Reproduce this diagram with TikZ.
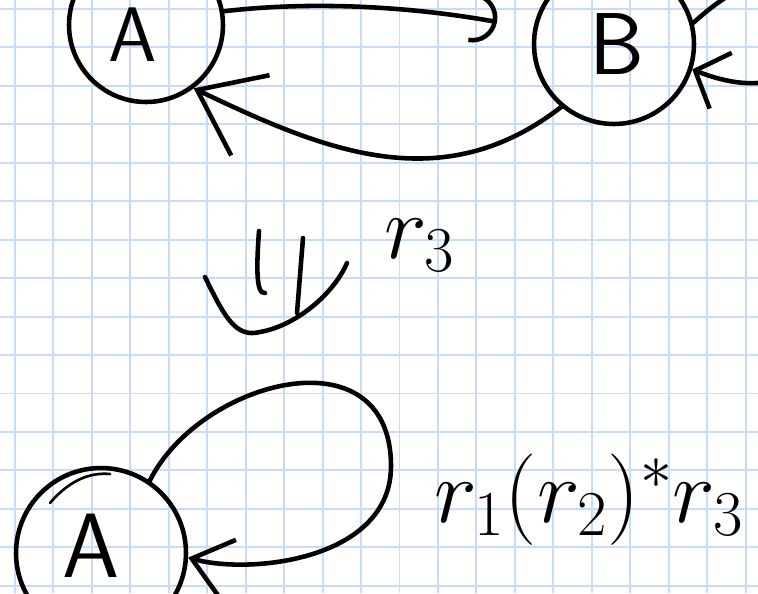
\RequirePackage{fix-cm}
\documentclass[tikz,border=0pt]{standalone}
\usetikzlibrary{arrows.meta}
\definecolor{gridblue}{RGB}{200,219,250}

\begin{document}
\begin{tikzpicture}[x=0.02cm, y=-0.02cm,
  gridline/.style={gridblue, line width=1.1pt},
  stroke/.style={line width=2.6pt, line cap=round, line join=round},
  state/.style={circle, draw, line width=2.6pt, inner sep=0pt},
  letter/.style={inner sep=0pt, font=\fontsize{52}{60}\sffamily},
  lbl/.style={inner sep=0pt, anchor=base west, font=\fontsize{52}{60}\selectfont}]
  \useasboundingbox (0,0) rectangle (758,593);
  \clip (0,0) rectangle (758,593);
  \fill[white] (0,0) rectangle (758,593);
  % Kareli kagit
  \foreach \i in {0,...,19}
    \draw[gridline] ({15+38.45*\i},0) -- ({15+38.45*\i},593);
  \foreach \j in {0,...,15}
    \draw[gridline] (0,{9+38.45*\j}) -- (758,{9+38.45*\j});
  % Ust otomat
  \node[state, minimum size=3.08cm] (topA) at (146,25) {};
  \node[letter, font=\fontsize{44}{50}\sffamily] (topAname) at (133,35) {A};
  \node[state, minimum size=3.2cm] (topB) at (614,44) {};
  \node[letter, font=\fontsize{50}{56}\sffamily] (topBname) at (617,44) {B};
  \coordinate (topAB) at (497,22);
  \draw[stroke, -{Arc Barb[length=0.5cm, width=1.0cm]}] (topA.10) .. controls (320,0) and (420,8) .. (topAB);
  \draw[stroke, -{Straight Barb[length=1.18cm, width=1.78cm]}] (topB.230) .. controls (441,200) and (323,150) .. (topA.307);
  \draw[stroke, -{Straight Barb[length=0.55cm, width=1.2cm]}] (topB.15) .. controls (850,-120) and (870,140) .. (topB.-18);
  % Indirgeme oku
  \draw[stroke] (259,231) .. controls (257,260) and (255,295) .. (265,293);
  \draw[stroke] (303,238) -- (297,313);
  \draw[stroke] (205,277) .. controls (225,318) and (236,338) .. (260,332)
    .. controls (295,326) and (333,295) .. (347,263);
  \node[lbl] (rthree) at (384,258) {$r_3$};
  % Alt otomat
  \node[state, minimum size=3.4cm] (botA) at (101,553) {};
  \node[letter] (botAname) at (91,546) {A};
  \draw[line width=1.5pt, line cap=round] (50,503) .. controls (68,482) and (88,472) .. (110,474);
  \coordinate (botloop) at (391,465);
  \draw[stroke, -{Straight Barb[length=0.75cm, width=1.2cm]}] (botA.56) .. controls (200,380) and (390,330) .. (botloop)
    .. controls (392,560) and (250,575) .. (botA.-3);
  % Duzenli ifade
  \node[lbl] (regex) at (434,522) {$r_1(r_2)^*r_3$};
\end{tikzpicture}
\end{document}
